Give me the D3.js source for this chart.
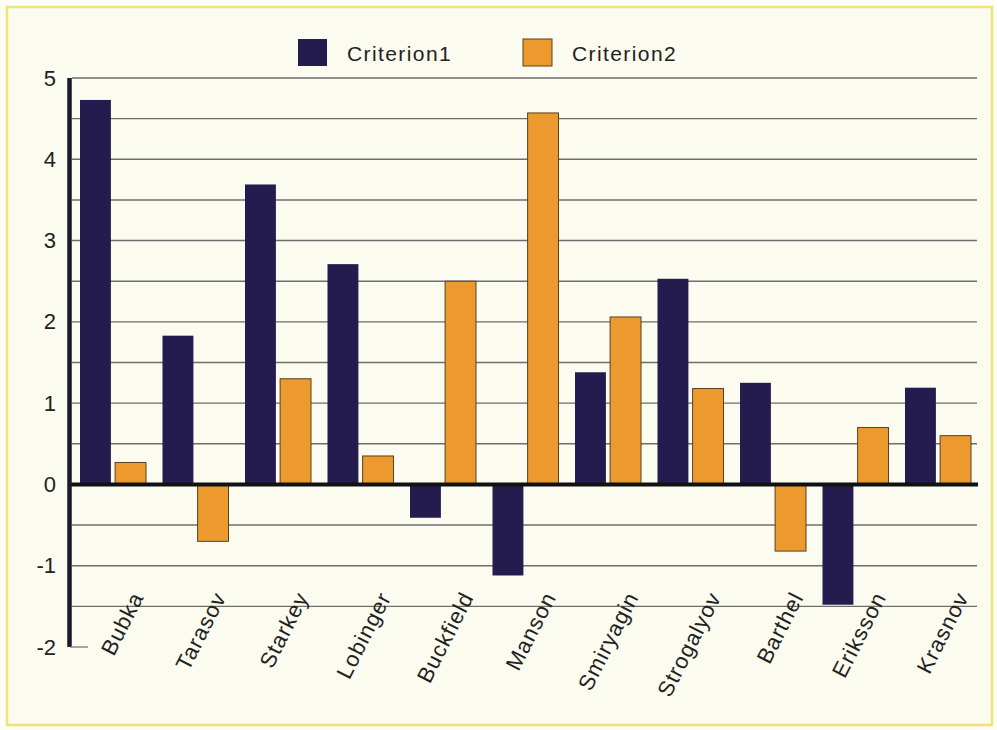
<!DOCTYPE html>
<html>
<head>
<meta charset="utf-8">
<script src="https://cdn.jsdelivr.net/npm/d3@7"></script>
<style>
  html, body { margin: 0; padding: 0; background: #fdfdf6; }
  svg { display: block; }
  text { font-family: "Liberation Sans", Arial, Helvetica, sans-serif; fill: #222; }
</style>
</head>
<body>
<svg id="chart" width="997" height="730"></svg>
<script>
const athletes = ["Bubka","Tarasov","Starkey","Lobinger","Buckfield","Manson","Smiryagin","Strogalyov","Barthel","Eriksson","Krasnov"];
const seriesNames = ["Criterion1","Criterion2"];
const criterion1 = [4.73, 1.83, 3.69, 2.71, -0.41, -1.12, 1.38, 2.53, 1.25, -1.48, 1.19];
const criterion2 = [0.27, -0.70, 1.30, 0.35, 2.50, 4.57, 2.06, 1.18, -0.82, 0.70, 0.60];
const yTickValues = [-2, -1, 0, 1, 2, 3, 4, 5];
const gridValues = [-1.5, -1, -0.5, 0.5, 1, 1.5, 2, 2.5, 3, 3.5, 4, 4.5, 5];
const colors = ["#241c4f", "#ec9a2d"];

const svg = d3.select("#chart");

// frame
svg.append("rect").attr("x", 7).attr("y", 7).attr("width", 985).attr("height", 718)
  .attr("fill", "#fbfbef").attr("stroke", "#eee476").attr("stroke-width", 2.5);

const y = d3.scaleLinear().domain([-2, 5]).range([647, 78]);
const x0 = d3.scaleBand().domain(athletes).range([72, 979.5]).padding(0);
const x1 = d3.scaleBand().domain(seriesNames).range([8, 74]).paddingInner(0.12);

// gridlines
svg.append("g").selectAll("line").data(gridValues).join("line")
  .attr("x1", 72).attr("x2", 977)
  .attr("y1", d => y(d)).attr("y2", d => y(d))
  .attr("stroke", "#6e6e6e").attr("stroke-width", 1.4);

// bars
const rows = athletes.map((a, i) => ({ name: a, values: [criterion1[i], criterion2[i]] }));
const groups = svg.append("g").selectAll("g").data(rows).join("g")
  .attr("transform", d => `translate(${x0(d.name)},0)`);
groups.selectAll("rect").data(d => d.values.map((v, j) => ({ s: seriesNames[j], v, j })))
  .join("rect")
  .attr("x", d => x1(d.s))
  .attr("width", x1.bandwidth())
  .attr("y", d => y(Math.max(0, d.v)))
  .attr("height", d => Math.abs(y(d.v) - y(0)))
  .attr("fill", d => colors[d.j])
  .attr("stroke", d => d.j === 1 ? "#5a4020" : "none")
  .attr("stroke-width", d => d.j === 1 ? 1 : 0);

// zero line
svg.append("line").attr("x1", 70).attr("x2", 978)
  .attr("y1", y(0)).attr("y2", y(0))
  .attr("stroke", "#111").attr("stroke-width", 4);

// y axis
const yAxis = d3.axisLeft(y).tickValues(yTickValues).tickSize(0).tickPadding(14)
  .tickFormat(d3.format("d"));
const ga = svg.append("g").attr("transform", "translate(70,0)").call(yAxis);
ga.select(".domain").remove();
ga.selectAll("text").style("font-size", "22px").attr("fill", "#222")
  .style("font-family", "Liberation Sans, Arial, sans-serif");
ga.selectAll("text").text(d => d < 0 ? "-" + Math.abs(d) : d);
svg.append("line").attr("x1", 69.5).attr("x2", 69.5).attr("y1", y(5)).attr("y2", y(-2))
  .attr("stroke", "#1a1a2a").attr("stroke-width", 4.5);
svg.append("line").attr("x1", 70).attr("x2", 88).attr("y1", y(-2)).attr("y2", y(-2))
  .attr("stroke", "#777").attr("stroke-width", 1.3);

// x labels
svg.append("g").selectAll("text").data(athletes).join("text")
  .attr("transform", d => `translate(${x0(d) + x0.bandwidth() / 2 + 31},597) rotate(-63)`)
  .attr("text-anchor", "end")
  .style("font-size", "22px")
  .style("letter-spacing", "1px")
  .text(d => d);

// legend
const legendX = [298, 523];
const lg = svg.append("g").selectAll("g").data(seriesNames).join("g")
  .attr("transform", (d, i) => `translate(${legendX[i]},39)`);
lg.append("rect").attr("width", 29).attr("height", 27)
  .attr("fill", (d, i) => colors[i])
  .attr("stroke", (d, i) => i === 1 ? "#5a4020" : "none").attr("stroke-width", 1);
lg.append("text").attr("x", 49).attr("y", 22)
  .style("font-size", "21px").style("letter-spacing", "1.4px")
  .text(d => d);
</script>
</body>
</html>
